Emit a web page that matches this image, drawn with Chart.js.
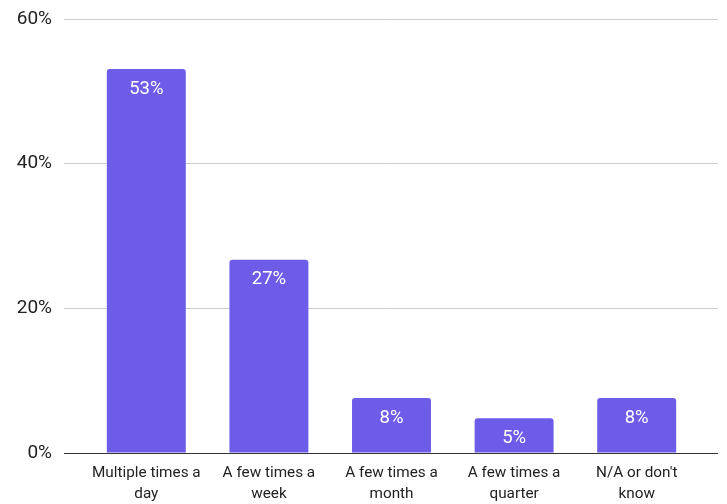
<!DOCTYPE html>
<html>
<head>
<meta charset="utf-8">
<script src="https://cdn.jsdelivr.net/npm/chart.js@4"></script>
<style>
  html, body { margin: 0; padding: 0; background: #fff; }
  #wrap { width: 727px; height: 504px; position: relative; }
</style>
</head>
<body>
<div id="wrap"><canvas id="freqChart"></canvas></div>
<script>
const categories = [
  ["Multiple times a", "day"],
  ["A few times a", "week"],
  ["A few times a", "month"],
  ["A few times a", "quarter"],
  ["N/A or don't", "know"],
];
const shares = [53.1, 26.7, 7.6, 4.8, 7.6];
const yTicks = [0, 20, 40, 60];

const barColor = "#6c5ce7";

// white % labels just below each bar top
const barLabels = {
  id: "barLabels",
  afterDatasetsDraw(chart) {
    const ctx = chart.ctx;
    const meta = chart.getDatasetMeta(0);
    ctx.save();
    ctx.fillStyle = "#ffffff";
    ctx.font = "18.5px Roboto";
    ctx.textAlign = "center";
    ctx.textBaseline = "middle";
    meta.data.forEach((bar, i) => {
      ctx.fillText(Math.round(shares[i]) + "%", bar.x, bar.y + 20);
    });
    ctx.restore();
  },
};

const gridColor = (c) => (c.tick && c.tick.value === 0 ? "#333333" : "#cccccc");

const ctx = document.getElementById("freqChart").getContext("2d");
new Chart(ctx, {
  type: "bar",
  data: {
    labels: categories,
    datasets: [
      {
        data: shares,
        backgroundColor: barColor,
        borderRadius: 3,
        barPercentage: 0.644,
        categoryPercentage: 1,
      },
    ],
  },
  options: {
    responsive: true,
    maintainAspectRatio: false,
    animation: false,
    layout: { padding: { top: 19, right: 9, left: 0, bottom: 0 } },
    plugins: {
      legend: { display: false },
      tooltip: { enabled: false },
    },
    scales: {
      x: {
        grid: { display: false },
        border: { color: "#333333", width: 1 },
        ticks: {
          color: "#222222",
          font: { family: "Roboto", size: 15.3, lineHeight: 1.4 },
          padding: 1,
          maxRotation: 0,
          autoSkip: false,
        },
        afterFit(scale) {
          scale.height = 51;
          scale.paddingLeft = 0;
          scale.paddingRight = 0;
        },
      },
      y: {
        min: 0,
        max: 60,
        afterBuildTicks(scale) {
          scale.ticks = yTicks.map((v) => ({ value: v }));
        },
        grid: { color: gridColor, tickLength: 21 },
        border: { display: false },
        ticks: {
          color: "#222222",
          font: { family: "Roboto", size: 19 },
          padding: 12,
          callback: (v) => v + "%",
        },
        afterFit(scale) {
          scale.width = 85;
          scale.paddingTop = 0;
          scale.paddingBottom = 0;
        },
      },
      y2: {
        position: "right",
        min: 0,
        max: 60,
        afterBuildTicks(scale) {
          scale.ticks = yTicks.map((v) => ({ value: v }));
        },
        grid: { color: gridColor, tickLength: 20, drawOnChartArea: false },
        border: { display: false },
        ticks: { display: false },
        afterFit(scale) {
          scale.width = 20;
          scale.paddingTop = 0;
          scale.paddingBottom = 0;
        },
      },
    },
  },
  plugins: [barLabels],
});
</script>
</body>
</html>
